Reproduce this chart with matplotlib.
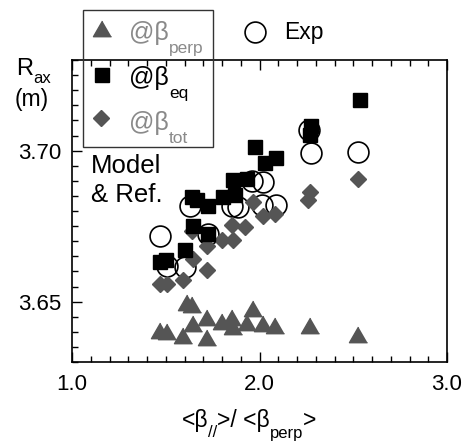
import matplotlib
matplotlib.use("Agg")
import matplotlib.pyplot as plt
from matplotlib.lines import Line2D
from matplotlib.patches import Rectangle
from matplotlib.ticker import MultipleLocator

plt.rcParams['font.family'] = ['Liberation Sans', 'DejaVu Sans']

# ---- data ----
exp_x = [1.469, 1.507, 1.603, 1.629, 1.725, 1.853, 1.885, 2.013, 2.088, 1.960, 2.019, 2.264, 2.275, 2.525]
exp_y = [3.6717, 3.6618, 3.6615, 3.6817, 3.6724, 3.6817, 3.6812, 3.6820, 3.6820, 3.6899, 3.6896, 3.7068, 3.6992, 3.6995]

eq_x = [1.469, 1.501, 1.603, 1.645, 1.725, 1.640, 1.667, 1.725, 1.805, 1.869, 1.859, 1.933, 1.976, 2.029, 2.088, 2.275, 2.269, 2.536]
eq_y = [3.6631, 3.6638, 3.6671, 3.6750, 3.6724, 3.6846, 3.6836, 3.6816, 3.6846, 3.6853, 3.6903, 3.6906, 3.7013, 3.6960, 3.6975, 3.7083, 3.7053, 3.7169]

tot_x = [1.469, 1.507, 1.592, 1.645, 1.720, 1.720, 1.640, 1.800, 1.859, 1.853, 1.923, 2.019, 2.083, 1.965, 2.269, 2.259, 2.525]
tot_y = [3.6558, 3.6558, 3.6571, 3.6641, 3.6605, 3.6684, 3.6734, 3.6704, 3.6704, 3.6754, 3.6747, 3.6783, 3.6790, 3.6830, 3.6863, 3.6836, 3.6906]

perp_x = [1.469, 1.507, 1.592, 1.613, 1.640, 1.645, 1.720, 1.720, 1.800, 1.853, 1.859, 1.933, 1.965, 2.019, 2.083, 2.269, 2.525]
perp_y = [3.6396, 3.6393, 3.6379, 3.6489, 3.6482, 3.6419, 3.6439, 3.6373, 3.6426, 3.6439, 3.6409, 3.6422, 3.6469, 3.6419, 3.6413, 3.6413, 3.6383]

xticks = [1.0, 2.0, 3.0]
xtick_labels = ['1.0', '2.0', '3.0']
yticks = [3.65, 3.70]
ytick_labels = ['3.65', '3.70']

W, H = 469, 443
GREY = '#555555'
LGREY = '#8a8a8a'

def fx(px):
    return px / W

def fy(py):
    return 1 - py / H

fig = plt.figure(figsize=(W / 100, H / 100), dpi=100)
ax = fig.add_axes([fx(72), fy(362), (447 - 72) / W, (362 - 60) / H])

tri = [(0, 0.577), (-0.5, -0.289), (0.5, -0.289)]

ax.plot(exp_x, exp_y, linestyle='none', marker='o', ms=15, mfc='none', mec='black', mew=1.2, zorder=3)
ax.plot(tot_x, tot_y, linestyle='none', marker='D', ms=8, mfc=GREY, mec=GREY, zorder=4)
ax.plot(eq_x, eq_y, linestyle='none', marker='s', ms=10, mfc='black', mec='black', zorder=5)
ax.plot(perp_x, perp_y, linestyle='none', marker=tri, ms=15, mfc=GREY, mec=GREY, zorder=4)

ax.set_xlim(1.0, 3.0)
ax.set_ylim(3.63, 3.73)
ax.set_xticks(xticks)
ax.set_xticklabels(xtick_labels)
ax.set_yticks(yticks)
ax.set_yticklabels(ytick_labels)
ax.xaxis.set_minor_locator(MultipleLocator(0.1))
ax.yaxis.set_minor_locator(MultipleLocator(0.005))
ax.tick_params(which='both', direction='in', top=True, right=False, labelsize=16, width=1.0)
ax.tick_params(which='major', length=7)
ax.tick_params(which='minor', length=4)
ax.tick_params(axis='x', pad=9)
ax.tick_params(axis='y', pad=8)
for s in ax.spines.values():
    s.set_linewidth(1.2)

# ---- text runs helper ----
fig.canvas.draw()
renderer = fig.canvas.get_renderer()

def runs(x_px, base_px, items, align='left'):
    widths = []
    for txt, size, dy, color in items:
        t = fig.text(0, 0, txt, fontsize=size, color=color)
        bb = t.get_window_extent(renderer)
        widths.append(bb.width)
        t.remove()
    total = sum(widths)
    x = x_px - (total / 2 if align == 'center' else 0)
    for (txt, size, dy, color), w in zip(items, widths):
        fig.text(fx(x), fy(base_px + dy), txt, fontsize=size, color=color, va='baseline', ha='left')
        x += w

# y label
runs(16, 75, [('R', 17, 0, 'black'), ('ax', 12, 8, 'black')])
fig.text(fx(15), fy(106), '(m)', fontsize=16.5, va='baseline', ha='left')

# model text
fig.text(fx(91), fy(173), 'Model', fontsize=18.5, va='baseline', ha='left')
fig.text(fx(91), fy(202), '& Ref.', fontsize=18.5, va='baseline', ha='left')

# x label
runs(249, 427, [('<β', 16.5, 0, 'black'), ('//', 12, 10, 'black'),
                ('>/ <β', 16.5, 0, 'black'), ('perp', 12, 11, 'black'), ('>', 16.5, 0, 'black')],
     align='center')

# legend box
fig.add_artist(Rectangle((fx(83), fy(147)), (213 - 83) / W, (147 - 10) / H,
                         transform=fig.transFigure, fill=False, edgecolor='#333333', lw=1.0, zorder=10))
fig.add_artist(Line2D([fx(102)], [fy(31)], marker=tri, ms=15, mfc=GREY, mec=GREY, linestyle='none',
                      transform=fig.transFigure))
fig.add_artist(Line2D([fx(102)], [fy(75)], marker='s', ms=10, mfc='black', mec='black', linestyle='none',
                      transform=fig.transFigure))
fig.add_artist(Line2D([fx(101)], [fy(118)], marker='D', ms=8, mfc=GREY, mec=GREY, linestyle='none',
                      transform=fig.transFigure))
runs(129, 40, [('@β', 18, 0, LGREY), ('perp', 12.5, 13, LGREY)])
runs(129, 85, [('@β', 18, 0, 'black'), ('eq', 12.5, 13, 'black')])
runs(129, 130, [('@β', 18, 0, LGREY), ('tot', 12.5, 13, LGREY)])

fig.add_artist(Line2D([fx(255)], [fy(32)], marker='o', ms=15, mfc='none', mec='black', mew=1.2,
                      linestyle='none', transform=fig.transFigure))
fig.text(fx(284), fy(39), 'Exp', fontsize=16.5, va='baseline', ha='left')

fig.savefig('out.png', dpi=100)
